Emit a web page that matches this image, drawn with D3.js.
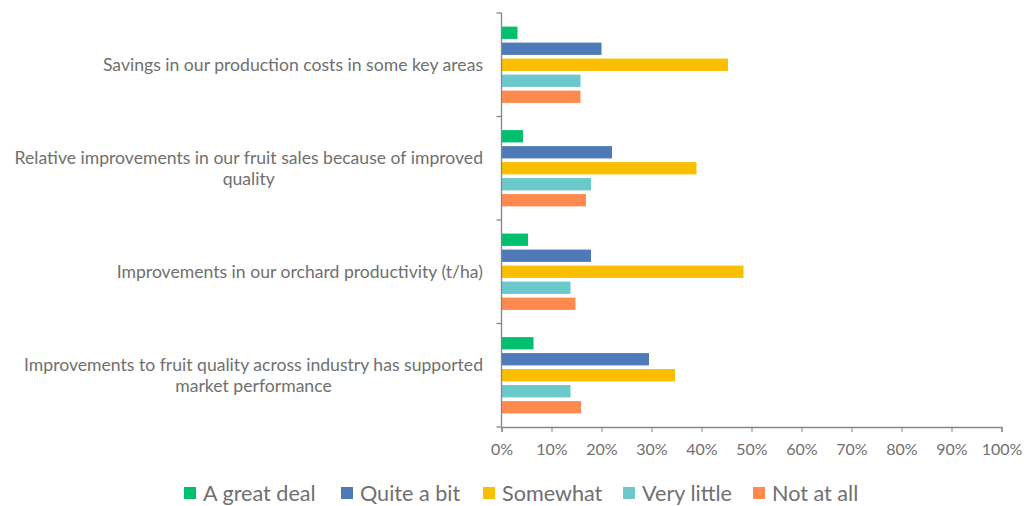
<!DOCTYPE html>
<meta charset="utf-8">
<style>
body { margin: 0; background: #fff; font-family: Lato, "Open Sans", sans-serif; }
.axis path, .axis line { stroke: #868686; }
.axis text { fill: #707070; font-size: 16px; font-family: Lato, sans-serif; }
.cat { fill: #707070; font-size: 17.6px; }
.legend text { fill: #707070; font-size: 21.6px; }
</style>
<body>
<script src="https://d3js.org/d3.v7.min.js"></script>
<script>
var categories = [
  "Savings in our production costs in some key areas",
  "Relative improvements in our fruit sales because of improved quality",
  "Improvements in our orchard productivity (t/ha)",
  "Improvements to fruit quality across industry has supported market performance"
];
var series = ["A great deal", "Quite a bit", "Somewhat", "Very little", "Not at all"];
var colors = ["#00c06f", "#4e7bb7", "#f9bf00", "#6bc8cb", "#ff8a4f"];

// percent per category, in series order
var aGreatDeal = [3.2, 4.3, 5.3, 6.4];
var quiteABit  = [20.0, 22.1, 17.9, 29.5];
var somewhat   = [45.3, 39.0, 48.4, 34.7];
var veryLittle = [15.8, 17.9, 13.8, 13.8];
var notAtAll   = [15.8, 16.9, 14.8, 15.9];

var xTicks = [0, 0.1, 0.2, 0.3, 0.4, 0.5, 0.6, 0.7, 0.8, 0.9, 1];

var values = [aGreatDeal, quiteABit, somewhat, veryLittle, notAtAll];

var width = 1024, height = 506;

var svg = d3.select("body").append("svg")
    .attr("width", width)
    .attr("height", height);

var x = d3.scaleLinear().domain([0, 1]).range([501.5, 1001.5]);

var y0 = d3.scaleBand().domain(categories).range([13, 427]);

var y1 = d3.scaleBand().domain(series)
    .range([0, y0.bandwidth()])
    .paddingInner(0.23)
    .paddingOuter(0.85);

var color = d3.scaleOrdinal().domain(series).range(colors);

var rows = [];
categories.forEach(function(c, i) {
  series.forEach(function(s, j) {
    rows.push({cat: c, s: s, v: values[j][i] / 100});
  });
});

svg.selectAll(".bar")
    .data(rows)
  .enter().append("rect")
    .attr("class", "bar")
    .attr("x", x(0))
    .attr("y", function(d) { return y0(d.cat) + y1(d.s); })
    .attr("width", function(d) { return x(d.v) - x(0); })
    .attr("height", y1.bandwidth())
    .attr("fill", function(d) { return color(d.s); });

// x axis
var xAxis = svg.append("g")
    .attr("class", "axis")
    .attr("transform", "translate(0," + 427 + ")")
    .call(d3.axisBottom(x).tickValues(xTicks).tickFormat(d3.format(".0%")).tickSize(5).tickSizeOuter(5));
xAxis.selectAll("text").attr("dy", "1.25em");
xAxis.select(".domain").attr("stroke-width", 1.3);

// y axis: line with ticks at category boundaries
var yAxis = svg.append("g").attr("class", "axis");
yAxis.append("line")
    .attr("x1", x(0)).attr("x2", x(0))
    .attr("y1", 13).attr("y2", 427)
    .attr("stroke-width", 1.3);
var bounds = categories.map(function(c) { return y0(c); }).concat([427]);
yAxis.selectAll(".ytick")
    .data(bounds)
  .enter().append("line")
    .attr("x1", x(0) - 5).attr("x2", x(0))
    .attr("y1", function(d) { return d; })
    .attr("y2", function(d) { return d; })
    .attr("stroke-width", 1.3);

// category labels, wrapped and right aligned
var labels = svg.selectAll(".cat")
    .data(categories)
  .enter().append("text")
    .attr("class", "cat")
    .attr("text-anchor", "middle");

labels.each(function(c) {
  var t = d3.select(this);
  var words = c.split(" "), lines = [], line = [];
  var tmp = t.append("tspan");
  words.forEach(function(w) {
    line.push(w);
    tmp.text(line.join(" "));
    if (tmp.node().getComputedTextLength() > 482 && line.length > 1) {
      line.pop();
      lines.push(line.join(" "));
      line = [w];
    }
  });
  lines.push(line.join(" "));
  tmp.remove();
  var cy = y0(c) + y0.bandwidth() / 2;
  var lh = 21.7;
  var widths = [];
  lines.forEach(function(l, k) {
    var ts = t.append("tspan").text(l)
        .attr("y", cy + (k - (lines.length - 1) / 2) * lh)
        .attr("dy", "0.35em");
    widths.push(ts.node().getComputedTextLength());
  });
  var maxW = d3.max(widths);
  t.selectAll("tspan").attr("x", 483 - maxW / 2);
});

// legend
var legendX = [184, 341, 483, 623, 753];
var legend = svg.append("g").attr("class", "legend")
  .selectAll("g")
    .data(series)
  .enter().append("g")
    .attr("transform", function(d, i) { return "translate(" + legendX[i] + ",493)"; });
legend.append("rect")
    .attr("x", 0).attr("y", -6)
    .attr("width", 12).attr("height", 12)
    .attr("fill", function(d) { return color(d); });
legend.append("text")
    .attr("x", 19)
    .attr("dy", "0.35em")
    .text(function(d) { return d; });
</script>
</body>
